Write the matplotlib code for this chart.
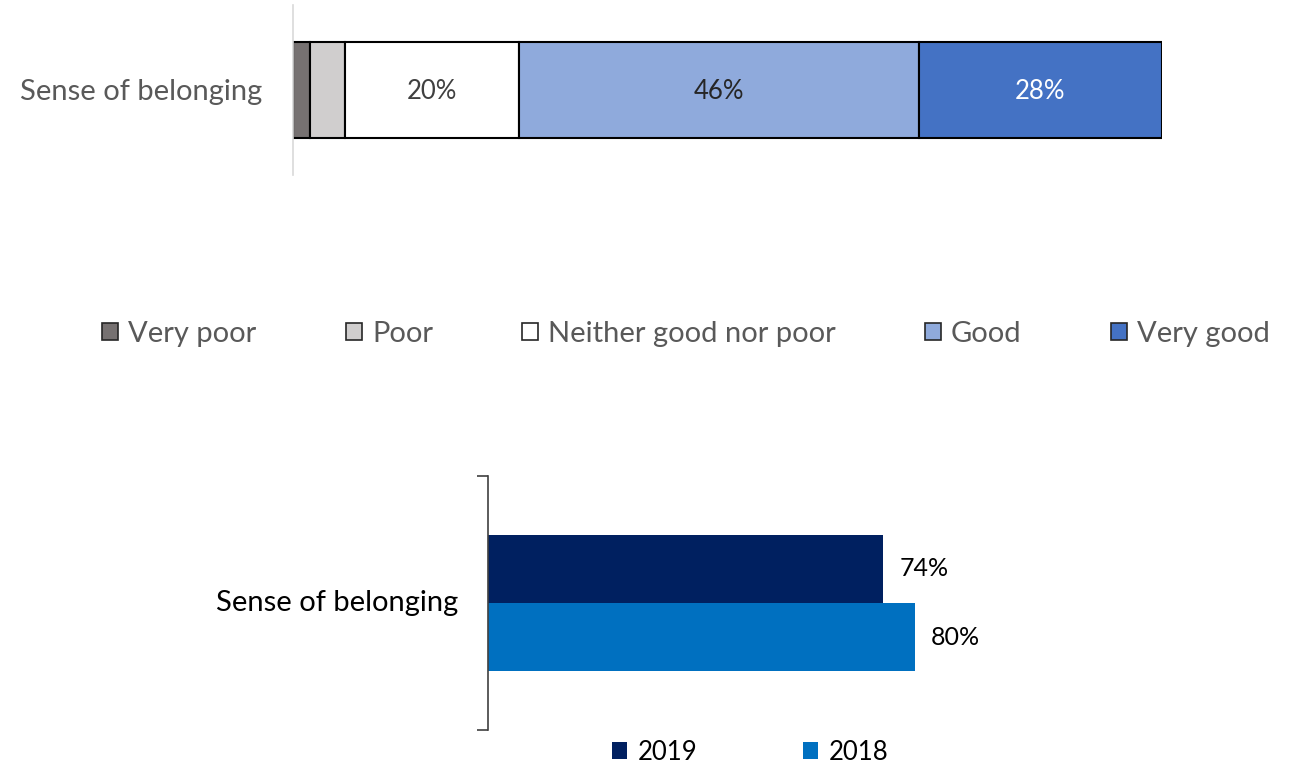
import matplotlib.pyplot as plt
from matplotlib.patches import Patch

plt.rcParams['font.family'] = ['Lato', 'DejaVu Sans']

# top chart: ratings
category = "Sense of belonging"
ratings = ["Very poor", "Poor", "Neither good nor poor", "Good", "Very good"]
rating_values = [2, 4, 20, 46, 28]
rating_colors = ["#767171", "#D0CECE", "#FFFFFF", "#8FAADC", "#4472C4"]
rating_label_colors = [None, None, "#404040", "#262626", "#FFFFFF"]

# bottom chart: positive share by year
years = ["2019", "2018"]
year_values = [74, 80]
year_colors = ["#002060", "#0070C0"]

W, H = 1291, 766
fig = plt.figure(figsize=(W / 100, H / 100), dpi=100)


def box(x0, y0, x1, y1):
    return [x0 / W, 1 - y1 / H, (x1 - x0) / W, (y1 - y0) / H]


# ---- top stacked bar
ax1 = fig.add_axes(box(293, 5, 1162, 175))
left = 0
for val, col, lc in zip(rating_values, rating_colors, rating_label_colors):
    ax1.barh(0, val, left=left, height=0.56, color=col, edgecolor="black", linewidth=1.5)
    if lc is not None:
        ax1.text(left + val / 2, -0.01, f"{val}%", ha="center", va="center",
                 fontsize=18.5, color=lc)
    left += val
ax1.set_xlim(0, 100)
ax1.set_ylim(-0.5, 0.5)
for s in ["top", "right", "bottom"]:
    ax1.spines[s].set_visible(False)
ax1.spines["left"].set_color("#D9D9D9")
ax1.spines["left"].set_linewidth(1.2)
ax1.set_xticks([])
ax1.set_yticks([])
ax1.text(-0.035, 0.49, category, transform=ax1.transAxes, ha="right", va="center",
         fontsize=21, color="#595959")

handles = [Patch(facecolor=c, edgecolor="#262626", linewidth=1.2) for c in rating_colors]
fig.legend(handles, ratings, loc="center", bbox_to_anchor=(686 / W, 1 - 334 / H),
           ncol=5, frameon=False, fontsize=21, labelcolor="#595959",
           handlelength=0.55, handleheight=0.55, handletextpad=0.35,
           columnspacing=3.05)

# ---- bottom grouped bar
ax2 = fig.add_axes(box(488, 476, 1022, 730))
ax2.barh([0.134], [year_values[0]], height=0.268, color=year_colors[0])
ax2.barh([-0.134], [year_values[1]], height=0.268, color=year_colors[1])
for y, v in zip([0.134, -0.134], year_values):
    ax2.text(v + 3, y, f"{v}%", ha="left", va="center", fontsize=18, color="black")
ax2.set_xlim(0, 100)
ax2.set_ylim(-0.5, 0.5)
for s in ["top", "right", "bottom"]:
    ax2.spines[s].set_visible(False)
ax2.spines["left"].set_color("#404040")
ax2.spines["left"].set_linewidth(1.2)
ax2.set_xticks([])
ax2.set_yticks([-0.5, 0.5])
ax2.set_yticklabels([])
ax2.tick_params(axis="y", length=8, width=1.2, color="#404040")
ax2.text(-0.055, 0.5, category, transform=ax2.transAxes, ha="right", va="center",
         fontsize=21, color="black")

handles2 = [Patch(facecolor=c, edgecolor="none") for c in year_colors]
fig.legend(handles2, years, loc="center", bbox_to_anchor=(750 / W, 1 - 752 / H),
           ncol=2, frameon=False, fontsize=18.5, labelcolor="black",
           handlelength=0.6, handleheight=0.6, handletextpad=0.4,
           columnspacing=4.1)

fig.savefig("out.png", dpi=100)
